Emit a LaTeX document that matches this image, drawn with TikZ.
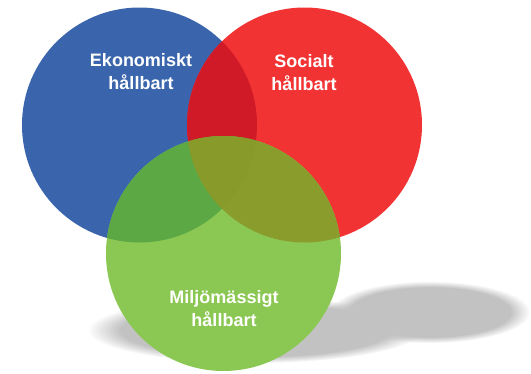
\documentclass[tikz,border=0pt]{standalone}
\usepackage{fontspec}
\setmainfont{Liberation Sans}
\usepackage{xcolor}
\definecolor{ecoblue}{HTML}{3A65AD}
\definecolor{socred}{HTML}{F23334}
\definecolor{miljgreen}{HTML}{8BC753}
\definecolor{ecosoc}{HTML}{D01A27}
\definecolor{ecomilj}{HTML}{5BA844}
\definecolor{socmilj}{HTML}{8A9C2C}
\definecolor{allthree}{HTML}{889A2A}
\usepackage{tikz}
\usetikzlibrary{positioning, fadings}

\begin{document}
\begin{tikzpicture}[x=1pt, y=-1pt,
    venn/.style={circle, fill=#1, minimum size=235pt, inner sep=0pt, outer sep=0pt},
    lbl/.style={align=center, text=white, font=\fontsize{18}{23}\selectfont\bfseries},
    shade/.style={fill=black!24, path fading=circle with fuzzy edge 20 percent},
]
    \useasboundingbox (0,0) rectangle (531,373);

    % Shadow on the floor
    \fill[shade] (430,312) ellipse [x radius=100pt, y radius=31pt];
    \fill[shade] (255,330) ellipse [x radius=167pt, y radius=33pt];

    % Circles
    \node[venn=ecoblue] (eco) at (139.5,125) {};
    \node[venn=socred] (soc) at (304.5,125) {};
    \node[venn=miljgreen] (milj) at (223.5,253.5) {};

    % Overlaps
    \begin{scope}
        \clip (eco.center) circle [radius=117.5pt];
        \fill[ecosoc] (soc.center) circle [radius=117.5pt];
        \fill[ecomilj] (milj.center) circle [radius=117.5pt];
    \end{scope}
    \begin{scope}
        \clip (soc.center) circle [radius=117.5pt];
        \fill[socmilj] (milj.center) circle [radius=117.5pt];
        \clip (milj.center) circle [radius=117.5pt];
        \fill[allthree] (eco.center) circle [radius=117.5pt];
    \end{scope}

    % Labels
    \node[lbl] (ecotxt) at (141,72) {Ekonomiskt\\hållbart};
    \node[lbl] (soctxt) at (304,73) {Socialt\\hållbart};
    \node[lbl] (miljtxt) at (224,309) {Miljömässigt\\hållbart};
\end{tikzpicture}
\end{document}
